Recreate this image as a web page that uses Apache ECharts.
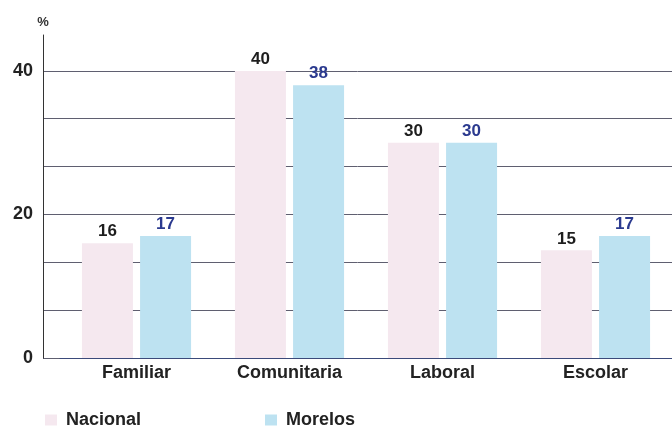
<!DOCTYPE html>
<html>
<head>
<meta charset="utf-8">
<script src="https://cdn.jsdelivr.net/npm/echarts@6/dist/echarts.min.js"></script>
<style>
html,body{margin:0;padding:0;background:#fff;}
#c{width:672px;height:434px;}
</style>
</head>
<body>
<div id="c"></div>
<script>
const categories = ['Familiar', 'Comunitaria', 'Laboral', 'Escolar'];
const nacional = [16, 40, 30, 15];
const morelos = [17, 38, 30, 17];
const seriesNames = ['Nacional', 'Morelos'];
const yLabels = [0, 20, 40];

const FONT = '"Liberation Sans", Arial, sans-serif';
const Y_MIN = 0, Y_MAX = 45, Y_STEP = 20 / 3;
const chart = echarts.init(document.getElementById('c'), null, {renderer: 'canvas'});
chart.setOption({
  backgroundColor: '#ffffff',
  animation: false,
  grid: [
    {left: 60, right: 0, top: 35, bottom: 76},
    {left: 43, right: 0, top: 35, bottom: 76}
  ],
  legend: {
    data: seriesNames,
    left: 40,
    top: 406,
    itemWidth: 12,
    itemHeight: 11,
    itemGap: 124,
    icon: 'rect',
    textStyle: {fontFamily: FONT, fontWeight: 'bold', fontSize: 18, color: '#222', padding: [0, 0, 0, 4]}
  },
  xAxis: [
    {
      type: 'category',
      gridIndex: 0,
      data: categories,
      axisLine: {show: true, lineStyle: {color: '#3b4a7a', width: 1}},
      axisTick: {show: false},
      axisLabel: {fontFamily: FONT, fontWeight: 'bold', fontSize: 18, color: '#222', margin: 6},
      splitLine: {show: false},
      z: 3
    },
    {
      type: 'category',
      gridIndex: 1,
      data: categories,
      show: false
    }
  ],
  yAxis: [
    {
      type: 'value',
      gridIndex: 0,
      min: Y_MIN,
      max: Y_MAX,
      interval: Y_STEP,
      offset: 17,
      name: '%',
      nameLocation: 'end',
      nameGap: 6,
      nameTextStyle: {fontFamily: FONT, fontWeight: 'bold', fontSize: 13, color: '#333', align: 'center'},
      axisLine: {show: true, lineStyle: {color: '#333', width: 1}},
      axisTick: {show: false},
      axisLabel: {
        fontFamily: FONT, fontWeight: 'bold', fontSize: 18, color: '#222', margin: 10,
        showMaxLabel: false,
        formatter: function (v) {
          const r = Math.round(v);
          if (Math.abs(v - r) < 1e-6 && yLabels.indexOf(r) >= 0) return String(r);
          return '';
        }
      },
      splitLine: {show: false}
    },
    {
      type: 'value',
      gridIndex: 1,
      min: Y_MIN,
      max: Y_MAX,
      interval: Y_STEP,
      axisLine: {show: false},
      axisTick: {show: false},
      axisLabel: {show: false},
      splitLine: {show: true, showMaxLine: false, lineStyle: {color: '#5f5f70', width: 1}}
    }
  ],
  series: [
    {
      name: seriesNames[0],
      type: 'bar',
      xAxisIndex: 0,
      yAxisIndex: 0,
      data: nacional,
      barWidth: 51,
      barGap: '14%',
      itemStyle: {color: '#f5e8ef'},
      label: {show: true, position: 'top', distance: 3, fontFamily: FONT, fontWeight: 'bold', fontSize: 17, color: '#1e1e1e'},
      z: 4
    },
    {
      name: seriesNames[1],
      type: 'bar',
      xAxisIndex: 0,
      yAxisIndex: 0,
      data: morelos,
      barWidth: 51,
      barGap: '14%',
      itemStyle: {color: '#bde2f1'},
      label: {show: true, position: 'top', distance: 3, fontFamily: FONT, fontWeight: 'bold', fontSize: 17, color: '#2b3a8f'},
      z: 4
    }
  ]
});
</script>
</body>
</html>
